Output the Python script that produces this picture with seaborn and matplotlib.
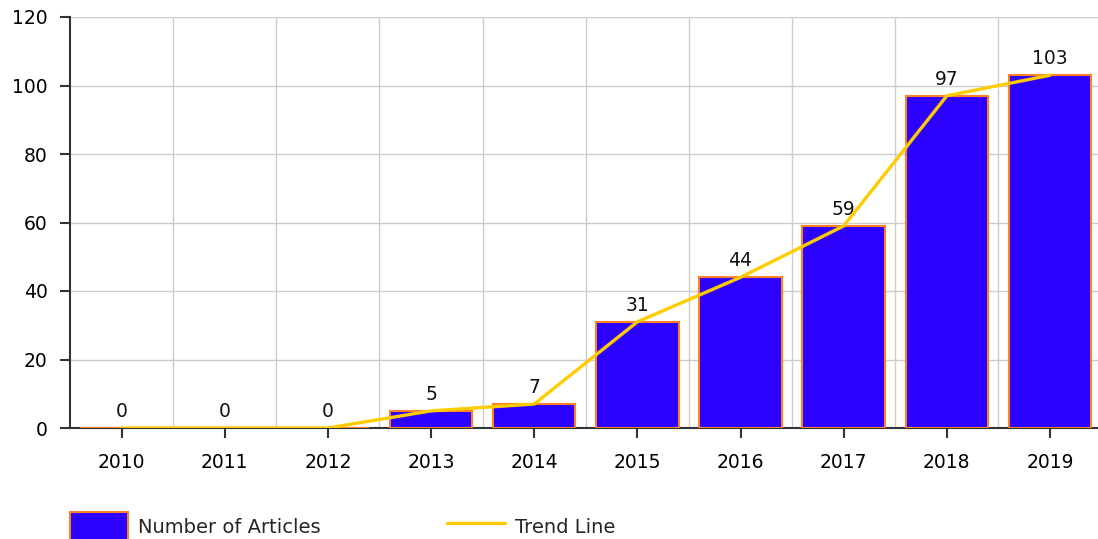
import numpy as np
import matplotlib
matplotlib.use("Agg")
import matplotlib.pyplot as plt
import matplotlib.patches as mpatches
from matplotlib.lines import Line2D
import seaborn as sns

# данные
years = ['2010', '2011', '2012', '2013', '2014', '2015', '2016', '2017', '2018', '2019']
articles = [0, 0, 0, 5, 7, 31, 44, 59, 97, 103]
y_ticks = [0, 20, 40, 60, 80, 100, 120]

bar_color = '#2b00ff'
edge_color = '#ff7f27'
trend_color = '#ffcc00'

sns.set_theme(style="white")
plt.rcParams['font.family'] = ['DejaVu Sans']

fig = plt.figure(figsize=(10.98, 5.39), dpi=100)
ax = fig.add_axes([70 / 1098, 111 / 539, 1031.6 / 1098, 411 / 539])

sns.barplot(x=years, y=articles, color=bar_color, saturation=1, width=0.8,
            edgecolor=edge_color, linewidth=1.5, ax=ax, zorder=3)
ax.bar_label(ax.containers[0], padding=5, fontsize=13.5, color='#111111')

# линия тренда
sns.lineplot(x=np.arange(len(years)), y=articles, color=trend_color,
             linewidth=2.4, ax=ax, zorder=4)

ax.set_xlim(-0.5, len(years) - 0.5)
ax.set_ylim(0, 120)
ax.set_yticks(y_ticks)
ax.set_xticks(np.arange(len(years)))
ax.set_xticklabels(years)
ax.set_xticks(np.arange(len(years)) + 0.5, minor=True)

ax.grid(axis='y', which='major', color='#cccccc', linewidth=1)
ax.grid(axis='x', which='minor', color='#cccccc', linewidth=1)
ax.set_axisbelow(True)

for side in ['top', 'right']:
    ax.spines[side].set_visible(False)
for side in ['left', 'bottom']:
    ax.spines[side].set_color('#333333')
    ax.spines[side].set_linewidth(1.5)

ax.tick_params(axis='both', which='major', bottom=True, left=True, length=7,
               width=1.5, color='#333333', labelsize=13.5, labelcolor='#000000')
ax.tick_params(axis='x', which='major', pad=11)
ax.tick_params(axis='y', which='major', pad=9)
ax.tick_params(axis='x', which='minor', length=0)
ax.set_xlabel('')
ax.set_ylabel('')

handles = [
    mpatches.Patch(facecolor=bar_color, edgecolor=edge_color, linewidth=1.5),
    Line2D([0], [0], color=trend_color, linewidth=2.4),
]
fig.legend(handles, ['Number of Articles', 'Trend Line'], loc='center left',
           bbox_to_anchor=(70 / 1098, 12 / 539), ncol=2, frameon=False,
           fontsize=14, handlelength=3.0, handleheight=2.0, handletextpad=0.5,
           columnspacing=6.5, borderpad=0, borderaxespad=0)

fig.savefig('out.png', dpi=100)
